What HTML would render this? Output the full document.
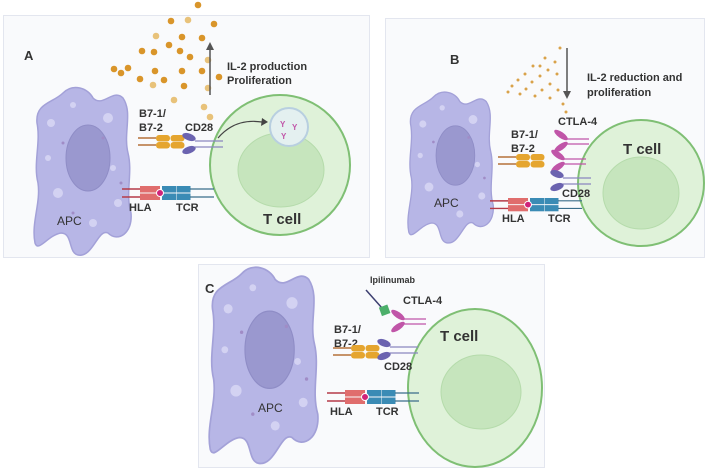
<!DOCTYPE html>
<html><head><meta charset="utf-8"><style>
html,body{margin:0;padding:0;background:#fff}
svg{display:block}
text{font-family:"Liberation Sans",Arial,sans-serif;font-weight:bold;fill:#333}
</style></head><body>
<svg width="708" height="475" viewBox="0 0 708 475" xmlns="http://www.w3.org/2000/svg">
<defs>
<g id="apc">
<path d="M30,10 C40,0 55,5 60,15 C70,25 80,5 90,15 C100,30 90,50 95,70 C100,90 92,110 98,130 C100,150 85,160 75,150 C65,145 60,175 45,172 C35,170 40,150 28,150 C15,152 5,170 2,160 C-2,140 8,120 5,100 C0,80 8,60 4,40 C2,20 20,20 30,10 Z" fill="#b7b6e6" stroke="#a3a1d8" stroke-width="1.5"/>
<ellipse cx="55" cy="75" rx="22" ry="33" fill="#9a98cf" stroke="#8f8dc6"/>
<circle cx="18" cy="40" r="4" fill="#d3d2f2"/><circle cx="40" cy="22" r="3" fill="#d3d2f2"/><circle cx="75" cy="35" r="5" fill="#d3d2f2"/><circle cx="25" cy="110" r="5" fill="#d3d2f2"/><circle cx="85" cy="120" r="4" fill="#d3d2f2"/><circle cx="15" cy="75" r="3" fill="#d3d2f2"/><circle cx="80" cy="85" r="3" fill="#d3d2f2"/><circle cx="60" cy="140" r="4" fill="#d3d2f2"/>
<circle cx="30" cy="60" r="1.5" fill="#a08cc6"/><circle cx="70" cy="55" r="1.5" fill="#a08cc6"/><circle cx="40" cy="130" r="1.5" fill="#a08cc6"/><circle cx="88" cy="100" r="1.5" fill="#a08cc6"/>
</g>
<g id="b7">
<line x1="0" y1="3" x2="18" y2="3" stroke="#b5713a" stroke-width="1.5"/><line x1="0" y1="10" x2="18" y2="10" stroke="#b5713a" stroke-width="1.5"/>
<rect x="18" y="0" width="14" height="6.5" rx="3" fill="#e5a52f"/><rect x="18" y="7" width="14" height="6.5" rx="3" fill="#e5a52f"/>
<rect x="32.5" y="0" width="14" height="6.5" rx="3" fill="#e5a52f"/><rect x="32.5" y="7" width="14" height="6.5" rx="3" fill="#e5a52f"/>
</g>
<g id="cd28">
<ellipse cx="6" cy="0" rx="7" ry="3.5" transform="rotate(20 6 0)" fill="#6b63b0"/>
<ellipse cx="6" cy="13" rx="7" ry="3.5" transform="rotate(-20 6 13)" fill="#6b63b0"/>
<line x1="12" y1="4" x2="40" y2="4" stroke="#8a86c0" stroke-width="1.2"/><line x1="12" y1="10" x2="40" y2="10" stroke="#8a86c0" stroke-width="1.2"/>
</g>
<g id="hla">
<line x1="0" y1="3" x2="20" y2="3" stroke="#b53a48" stroke-width="1.5"/><line x1="0" y1="11" x2="20" y2="11" stroke="#b53a48" stroke-width="1.5"/>
<rect x="18" y="0" width="20" height="6.5" fill="#e06d6d"/><rect x="18" y="7.5" width="20" height="6.5" fill="#e06d6d"/>
<rect x="40" y="0" width="14" height="6.5" fill="#3a8bb5"/><rect x="40" y="7.5" width="14" height="6.5" fill="#3a8bb5"/>
<rect x="54.5" y="0" width="14" height="6.5" fill="#3a8bb5"/><rect x="54.5" y="7.5" width="14" height="6.5" fill="#3a8bb5"/>
<circle cx="38" cy="7" r="3.5" fill="#d0237a" stroke="#fff"/>
<line x1="68" y1="3" x2="92" y2="3" stroke="#3a6d8a" stroke-width="1.2"/><line x1="68" y1="11" x2="92" y2="11" stroke="#3a6d8a" stroke-width="1.2"/>
</g>
<g id="ctla">
<ellipse cx="6" cy="0" rx="8" ry="3" transform="rotate(35 6 0)" fill="#c055a8"/>
<ellipse cx="6" cy="12" rx="8" ry="3" transform="rotate(-35 6 12)" fill="#c055a8"/>
<line x1="12" y1="4" x2="34" y2="4" stroke="#c055a8" stroke-width="1.3"/><line x1="12" y1="9" x2="34" y2="9" stroke="#c055a8" stroke-width="1.3"/>
</g>
</defs>

<!-- Panel A -->
<rect x="3.5" y="15.5" width="366" height="242" fill="#f9fafc" stroke="#e3e6ef"/>
<text x="24" y="60" font-size="13">A</text>
<g fill="#d9952a">
<circle cx="198" cy="5" r="3.3"/><circle cx="171" cy="21" r="3.3"/><circle cx="188" cy="20" r="3.3" fill="#e8c27a"/><circle cx="214" cy="24" r="3.3"/><circle cx="156" cy="36" r="3.3" fill="#e8c27a"/><circle cx="182" cy="37" r="3.3"/><circle cx="202" cy="38" r="3.3"/><circle cx="142" cy="51" r="3.3"/><circle cx="154" cy="52" r="3.3"/><circle cx="169" cy="45" r="3.3"/><circle cx="180" cy="51" r="3.3"/><circle cx="190" cy="57" r="3.3"/><circle cx="114" cy="69" r="3.3"/><circle cx="121" cy="73" r="3.3"/><circle cx="128" cy="68" r="3.3"/><circle cx="155" cy="71" r="3.3"/><circle cx="182" cy="71" r="3.3"/><circle cx="202" cy="71" r="3.3"/><circle cx="140" cy="79" r="3.3"/><circle cx="164" cy="80" r="3.3"/><circle cx="153" cy="85" r="3.3" fill="#e8c27a"/><circle cx="184" cy="86" r="3.3"/><circle cx="219" cy="77" r="3.3"/><circle cx="208" cy="88" r="3.3" fill="#e8c27a"/><circle cx="174" cy="100" r="3.3" fill="#e8c27a"/><circle cx="204" cy="107" r="3.3" fill="#e8c27a"/><circle cx="210" cy="117" r="3.3" fill="#e8c27a"/><circle cx="208" cy="60" r="3.3" fill="#e8c27a"/>
</g>
<line x1="210" y1="95" x2="210" y2="50" stroke="#555" stroke-width="1.5"/><polygon points="206,50 214,50 210,42" fill="#555"/>
<text x="227" y="70" font-size="11">IL-2 production</text>
<text x="227" y="84" font-size="11">Proliferation</text>
<use href="#apc" transform="translate(33,83)"/>
<circle cx="280" cy="165" r="70" fill="#dff2d9" stroke="#7fbf74" stroke-width="2"/>
<ellipse cx="281" cy="170" rx="43" ry="37" fill="#c6e5bd" stroke="#b5dbab"/>
<circle cx="289" cy="127" r="19" fill="#e4f0f0" stroke="#b8cfe0" stroke-width="2"/>
<text x="280" y="127" font-size="8" style="fill:#c055a8">Y</text><text x="292" y="130" font-size="8" style="fill:#c055a8">Y</text><text x="281" y="139" font-size="8" style="fill:#c055a8">Y</text>
<path d="M218,138 Q235,118 262,122" fill="none" stroke="#444" stroke-width="1.2"/><polygon points="262,118 268,122 261,126" fill="#444"/>
<text x="139" y="117" font-size="11">B7-1/</text><text x="139" y="131" font-size="11">B7-2</text><text x="185" y="131" font-size="11">CD28</text>
<use href="#b7" transform="translate(138,135)"/>
<use href="#cd28" transform="translate(183,137)"/>
<use href="#hla" transform="translate(122,186)"/>
<text x="129" y="211" font-size="11">HLA</text><text x="176" y="211" font-size="11">TCR</text>
<text x="57" y="225" font-size="12" style="font-weight:normal">APC</text>
<text x="263" y="224" font-size="15">T cell</text>

<!-- Panel B -->
<rect x="385.5" y="18.5" width="319" height="239" fill="#f9fafc" stroke="#e3e6ef"/>
<text x="450" y="64" font-size="13">B</text>
<g fill="#d9a24a">
<circle cx="560" cy="48" r="1.5"/><circle cx="545" cy="58" r="1.5"/><circle cx="555" cy="62" r="1.5"/><circle cx="533" cy="66" r="1.5"/><circle cx="548" cy="70" r="1.5"/><circle cx="525" cy="74" r="1.5"/><circle cx="540" cy="76" r="1.5"/><circle cx="557" cy="74" r="1.5"/><circle cx="518" cy="80" r="1.5"/><circle cx="532" cy="82" r="1.5"/><circle cx="550" cy="84" r="1.5"/><circle cx="512" cy="86" r="1.5"/><circle cx="526" cy="89" r="1.5"/><circle cx="542" cy="90" r="1.5"/><circle cx="558" cy="90" r="1.5"/><circle cx="520" cy="94" r="1.5"/><circle cx="535" cy="96" r="1.5"/><circle cx="550" cy="98" r="1.5"/><circle cx="563" cy="104" r="1.5"/><circle cx="566" cy="112" r="1.5"/><circle cx="508" cy="92" r="1.5"/><circle cx="540" cy="66" r="1.5"/>
</g>
<line x1="567" y1="48" x2="567" y2="92" stroke="#555" stroke-width="1.5"/><polygon points="563,91 571,91 567,99" fill="#555"/>
<text x="587" y="81" font-size="11">IL-2 reduction and</text>
<text x="587" y="96" font-size="11">proliferation</text>
<use href="#apc" transform="translate(407,88) scale(0.88,0.9)"/>
<circle cx="641" cy="183" r="63" fill="#dff2d9" stroke="#7fbf74" stroke-width="2"/>
<ellipse cx="641" cy="193" rx="38" ry="36" fill="#c6e5bd" stroke="#b5dbab"/>
<text x="558" y="125" font-size="11">CTLA-4</text>
<text x="511" y="138" font-size="11">B7-1/</text><text x="511" y="152" font-size="11">B7-2</text>
<text x="623" y="154" font-size="15">T cell</text>
<use href="#b7" transform="translate(498,154)"/>
<use href="#ctla" transform="translate(555,135)"/>
<use href="#ctla" transform="translate(552,155)"/>
<use href="#cd28" transform="translate(551,174)"/>
<text x="562" y="197" font-size="11">CD28</text>
<use href="#hla" transform="translate(490,198) scale(1,0.95)"/>
<text x="502" y="222" font-size="11">HLA</text><text x="548" y="222" font-size="11">TCR</text>
<text x="434" y="207" font-size="12" style="font-weight:normal">APC</text>

<!-- Panel C -->
<rect x="198.5" y="264.5" width="346" height="203" fill="#f9fafc" stroke="#e3e6ef"/>
<text x="205" y="293" font-size="13">C</text>
<use href="#apc" transform="translate(208,262) scale(1.12,1.17)"/>
<ellipse cx="475" cy="388" rx="67" ry="79" fill="#dff2d9" stroke="#7fbf74" stroke-width="2"/>
<ellipse cx="481" cy="392" rx="40" ry="37" fill="#c6e5bd" stroke="#b5dbab"/>
<text x="370" y="283" font-size="9">Ipilinumab</text>
<line x1="366" y1="290" x2="382" y2="308" stroke="#3d3f70" stroke-width="1.5"/>
<rect x="380" y="306" width="9" height="9" fill="#4caf6a" transform="rotate(-20 384 310)"/>
<text x="403" y="304" font-size="11">CTLA-4</text>
<use href="#ctla" transform="translate(392,315)"/>
<text x="334" y="333" font-size="11">B7-1/</text><text x="334" y="347" font-size="11">B7-2</text>
<text x="440" y="341" font-size="15">T cell</text>
<use href="#b7" transform="translate(333,345)"/>
<use href="#cd28" transform="translate(378,343)"/>
<text x="384" y="370" font-size="11">CD28</text>
<use href="#hla" transform="translate(327,390)"/>
<text x="330" y="415" font-size="11">HLA</text><text x="376" y="415" font-size="11">TCR</text>
<text x="258" y="412" font-size="12" style="font-weight:normal">APC</text>
</svg>
</body></html>
